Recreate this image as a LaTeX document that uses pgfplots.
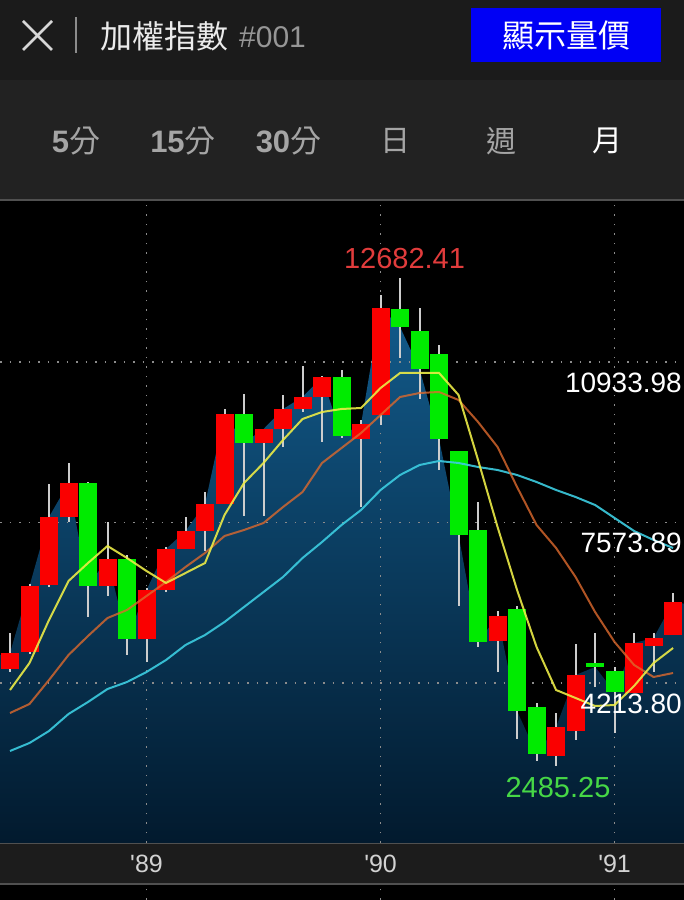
\documentclass[border=0pt]{standalone}
\usepackage{pgfplots}
\pgfplotsset{compat=1.18}
\usepackage{pgfplotstable}
\usepackage{fontspec}
\setmainfont{Liberation Sans}
\newfontfamily\cjk{Noto Sans CJK TC}
\definecolor{hdr}{RGB}{27,27,27}
\definecolor{hdr2}{RGB}{34,34,34}
\definecolor{band}{RGB}{28,28,28}
\definecolor{sep}{RGB}{80,80,80}
\definecolor{btn}{RGB}{0,0,245}
\definecolor{upc}{RGB}{250,0,0}
\definecolor{dnc}{RGB}{0,235,0}
\definecolor{wick}{RGB}{205,205,205}
\definecolor{ma1}{RGB}{235,235,70}
\definecolor{ma2}{RGB}{220,105,45}
\definecolor{ma3}{RGB}{60,205,225}
\definecolor{areatop}{RGB}{18,90,138}
\definecolor{areabot}{RGB}{2,26,46}
\definecolor{gridc}{RGB}{140,140,140}
\definecolor{lblred}{RGB}{225,60,60}
\definecolor{lblgreen}{RGB}{70,215,70}
\definecolor{tabgray}{RGB}{165,165,165}
\definecolor{iconc}{RGB}{215,215,215}
\definecolor{barc}{RGB}{140,140,140}
\definecolor{titlec}{RGB}{235,235,235}
\definecolor{codec}{RGB}{150,150,150}
\definecolor{xlab}{RGB}{210,210,210}

\pgfplotstableread{
x o h l c
0 4500 4900 4400 4760
1 4508.4 5261.9 4445.6 4843.3
2 4864.2 6287.5 4822.4 6245.6
3 6266.6 8380.5 6224.7 7689.8
4 7689.8 8820.0 7585.1 8401.4
5 8401.4 8420.0 5596.8 6245.6
6 6245.6 7585.1 6036.3 6810.7
7 6810.7 6894.4 4801.4 5136.3
8 5136.3 6203.8 4654.9 6161.9
9 6161.9 7061.9 6119.9 7020.0
10 7020.0 7689.8 7020.0 7396.8
11 7396.8 8213.0 6978.2 7961.9
12 7961.9 9950.2 7961.9 9845.6
13 9845.6 10264.2 7710.7 9238.6
14 9238.6 9531.6 7710.7 9531.6
15 9531.6 10243.3 9154.9 9950.2
16 9950.2 10850.2 9887.4 10201.4
17 10201.4 10640.0 9259.5 10620.0
18 10620.0 10766.5 9343.3 9385.1
19 9322.3 9720.0 7899.1 9636.3
20 9824.6 12336.2 9615.4 12064.2
21 12043.3 12682.41 11017.7 11666.5
22 11582.8 12064.2 10159.5 10787.4
23 11101.4 11289.7 8673.5 9322.3
24 9071.2 9071.2 5827.0 7313.0
25 7417.7 8003.7 4968.9 5073.5
26 5094.5 5722.4 4445.6 5617.7
27 5764.2 5827.0 3043.3 3629.4
28 3713.1 3796.8 2582.9 2729.4
29 2687.5 3587.5 2485.25 3294.5
30 3210.8 5031.7 3022.4 4382.8
31 4634.0 5261.9 4131.7 4550.3
32 4466.6 4550.3 3168.9 4027.0
33 4006.1 5261.9 4006.1 5052.6
34 4989.8 5261.9 4445.6 5157.3
35 5220.0 6099.1 5220.0 5910.7
36 5910.7 6000.0 5700.0 5850.0
}\candles

\pgfplotstableread{
x ma5 ma10 ma20
1 4068.9 3587.5 2792.2
2 4634.0 3775.9 2959.6
3 5534.0 4278.2 3210.8
4 6350.3 4801.4 3566.6
5 6727.0 5199.1 3817.7
6 7082.8 5575.9 4089.8
7 6831.7 5743.3 4236.3
8 6559.6 6036.3 4445.6
9 6308.4 6329.3 4696.8
10 6517.7 6643.3 5010.7
11 6727.0 6936.3 5220.0
12 7732.7 7292.1 5492.1
13 8401.4 7417.7 5806.1
14 8820.0 7564.2 6119.9
15 9301.4 7899.1 6434.0
16 9740.9 8213.0 6831.7
17 9887.4 8820.0 7166.5
18 9950.2 9134.0 7522.3
19 9971.2 9447.9 7836.3
20 10389.8 9824.6 8254.9
21 10703.7 10201.4 8568.8
22 10703.7 10285.1 8778.1
23 10703.7 10306.0 8861.9
24 10243.3 10138.6 8820.0
25 8882.8 9678.1 8736.3
26 7480.5 9154.9 8673.5
27 6161.9 8317.7 8568.8
28 4968.9 7522.3 8422.3
29 4068.9 7041.0 8254.9
30 3901.5 6434.0 8108.4
31 3734.0 5701.4 7940.9
32 3754.9 5073.5 7668.9
33 4152.6 4592.1 7396.8
34 4634.0 4341.0 7208.4
35 4948.0 4424.7 7041.0
}\mas

\pgfplotsset{
  candle/.style={only marks, mark=none, mark size=0pt, mark options={draw=none, fill=none}, forget plot, color=#1,
    error bars/y dir=plus, error bars/y explicit, error bars/error mark=none},
}

\begin{document}
\begin{tikzpicture}[x=1pt,y=1pt]
\path[use as bounding box] (0,0) rectangle (684,900);
% backgrounds
\fill[black] (0,0) rectangle (684,900);
\fill[hdr] (0,820) rectangle (684,900);
\fill[hdr2] (0,700) rectangle (684,820);
\fill[band] (0,16) rectangle (684,57);
\draw[sep, line width=1.5pt] (0,700) -- (684,700);
\draw[sep, line width=1.5pt] (0,57) -- (684,57);
\draw[sep, line width=1.5pt] (0,16) -- (684,16);
\foreach \gx in {146.5,380.5,614.5}{
  \draw[gridc, line width=1.6pt, dash pattern=on 1.6pt off 7.9pt] (\gx,0) -- (\gx,16);
}

\begin{axis}[
  at={(0pt,57pt)}, anchor=south west,
  scale only axis, width=684pt, height=643pt,
  xmin=0.487, xmax=35.56, ymin=866.6, ymax=14324.6,
  axis line style={draw=none},
  major tick length=0pt,
  xtick={8,20,32},
  xticklabels={\textquotesingle89,\textquotesingle90,\textquotesingle91},
  xticklabel style={anchor=base, yshift=-30pt, text=xlab, font=\fontsize{25}{25}\selectfont},
  ytick=\empty,
]
% close-price area
\addplot[draw=none, top color=areatop, bottom color=areabot, forget plot]
  table[x=x, y=c] {\candles} \closedcycle;
% dotted grid
\draw[gridc, line width=1.6pt, dash pattern=on 1.6pt off 7.9pt] (axis cs:0.487,4213.80) -- (axis cs:35.56,4213.80);
\draw[gridc, line width=1.6pt, dash pattern=on 1.6pt off 7.9pt] (axis cs:0.487,7573.89) -- (axis cs:35.56,7573.89);
\draw[gridc, line width=1.6pt, dash pattern=on 1.6pt off 7.9pt] (axis cs:0.487,10933.98) -- (axis cs:35.56,10933.98);
\draw[gridc, line width=1.6pt, dash pattern=on 1.6pt off 7.9pt] (axis cs:8,866.6) -- (axis cs:8,14324.6);
\draw[gridc, line width=1.6pt, dash pattern=on 1.6pt off 7.9pt] (axis cs:20,866.6) -- (axis cs:20,14324.6);
\draw[gridc, line width=1.6pt, dash pattern=on 1.6pt off 7.9pt] (axis cs:32,866.6) -- (axis cs:32,14324.6);
% wicks
\addplot[candle=wick, error bars/error bar style={line width=2pt, color=wick}]
  table[x=x, y=l, y error plus expr=\thisrow{h}-\thisrow{l}] {\candles};
% up bodies
\addplot[candle=upc, restrict expr to domain={\thisrow{c}-\thisrow{o}}{0:20000},
  error bars/error bar style={line width=18pt, color=upc}]
  table[x=x, y=o, y error plus expr=\thisrow{c}-\thisrow{o}] {\candles};
% down bodies
\addplot[candle=dnc, restrict expr to domain={\thisrow{c}-\thisrow{o}}{-20000:0},
  error bars/error bar style={line width=18pt, color=dnc}]
  table[x=x, y=c, y error plus expr=\thisrow{o}-\thisrow{c}] {\candles};
% moving averages
\addplot[ma3, line width=2pt, opacity=0.9] table[x=x, y=ma20] {\mas};
\addplot[ma2, line width=2pt, opacity=0.8] table[x=x, y=ma10] {\mas};
\addplot[ma1, line width=2pt, opacity=0.9] table[x=x, y=ma5] {\mas};
\end{axis}

% price labels
\node[anchor=east, inner sep=0, text=white, font=\fontsize{28}{28}\selectfont] at (682,517.5) {10933.98};
\node[anchor=east, inner sep=0, text=white, font=\fontsize{28}{28}\selectfont] at (682,357) {7573.89};
\node[anchor=east, inner sep=0, text=white, font=\fontsize{28}{28}\selectfont] at (682,196.5) {4213.80};
\node[anchor=center, inner sep=0, text=lblred, font=\fontsize{29}{29}\selectfont] at (404.5,641) {12682.41};
\node[anchor=center, inner sep=0, text=lblgreen, font=\fontsize{29}{29}\selectfont] at (558,112.5) {2485.25};

% header
\draw[iconc, line width=2.8pt] (23,879) -- (52,850);
\draw[iconc, line width=2.8pt] (23,850) -- (52,879);
\draw[barc, line width=1.5pt] (76,883) -- (76,847);
\node[anchor=west, inner sep=0, text=titlec, font=\cjk\fontsize{32}{32}\selectfont] at (100,863.5) {加權指數};
\node[anchor=west, inner sep=0, text=codec, font=\fontsize{30}{30}\selectfont] at (239,863) {\#001};
\fill[btn] (471,892) rectangle (661,838);
\node[anchor=center, inner sep=0, text=white, font=\cjk\fontsize{32}{32}\selectfont] at (566,865) {顯示量價};

% period tabs
\node[anchor=center, inner sep=0, text=tabgray, font=\fontsize{31}{31}\selectfont] at (76,759) {\textbf{5}{\cjk 分}};
\node[anchor=center, inner sep=0, text=tabgray, font=\fontsize{31}{31}\selectfont] at (183,759) {\textbf{15}{\cjk 分}};
\node[anchor=center, inner sep=0, text=tabgray, font=\fontsize{31}{31}\selectfont] at (288.5,759) {\textbf{30}{\cjk 分}};
\node[anchor=center, inner sep=0, text=tabgray, font=\cjk\fontsize{30}{30}\selectfont] at (395.5,759) {日};
\node[anchor=center, inner sep=0, text=tabgray, font=\cjk\fontsize{30}{30}\selectfont] at (501.5,759) {週};
\node[anchor=center, inner sep=0, text=white, font=\cjk\fontsize{30}{30}\selectfont] at (607,759) {月};
\end{tikzpicture}
\end{document}
